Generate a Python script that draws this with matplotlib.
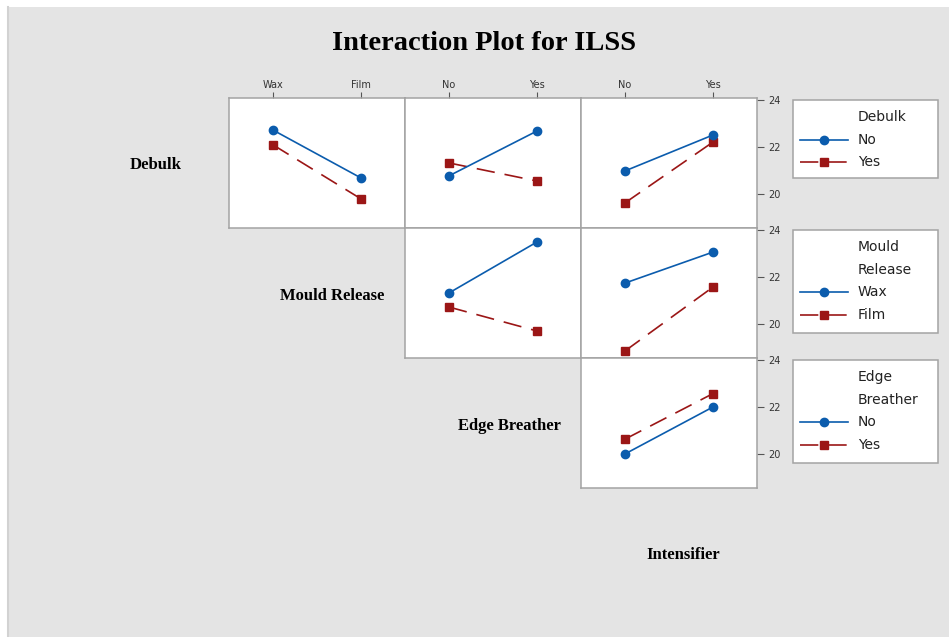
import matplotlib.pyplot as plt
from matplotlib.lines import Line2D
from matplotlib.patches import Rectangle

W, H = 949, 637

factors = ['Debulk', 'Mould Release', 'Edge Breather', 'Intensifier']
levels = [['No', 'Yes'], ['Wax', 'Film'], ['No', 'Yes'], ['No', 'Yes']]
legend_titles = [['Debulk'], ['Mould', 'Release'], ['Edge', 'Breather']]

# mean ILSS, one list per level of the trace factor (row), x = column factor
debulk_x_mould = [[22.72, 20.68], [22.09, 19.79]]
debulk_x_edge = [[20.77, 22.68], [21.32, 20.55]]
debulk_x_intens = [[20.98, 22.51], [19.62, 22.21]]
mould_x_edge = [[21.32, 23.49], [20.72, 19.70]]
mould_x_intens = [[21.74, 23.06], [18.85, 21.57]]
edge_x_intens = [[20.00, 22.00], [20.63, 22.57]]

panels = {
    (0, 1): debulk_x_mould,
    (0, 2): debulk_x_edge,
    (0, 3): debulk_x_intens,
    (1, 2): mould_x_edge,
    (1, 3): mould_x_intens,
    (2, 3): edge_x_intens,
}

yticks = [20, 22, 24]

blue = '#0b5cad'
red = '#9b1616'
frame = '#a3a3a3'
bg = '#e4e4e4'
dash = (0, (11, 6))


def fx(x):
    return x / W


def fy(y):
    return 1 - y / H


fig = plt.figure(figsize=(W / 100, H / 100), dpi=100, facecolor='white')
fig.add_artist(Rectangle((fx(8), 0), 1 - fx(8), fy(7), transform=fig.transFigure,
                         facecolor=bg, edgecolor='none', zorder=0))
fig.add_artist(Line2D([fx(8), fx(8)], [0, fy(7)], transform=fig.transFigure,
                      color='#d2d2d2', lw=1.5, zorder=0))

fig.text(fx(484), fy(43), 'Interaction Plot for ILSS', ha='center', va='center',
         family='Liberation Serif', weight='bold', fontsize=20.5)

col_left = [229, 405, 581]
row_top = [98, 228, 358]
pw, ph = 176, 130

for (r, c), vals in panels.items():
    ci = c - 1
    ax = fig.add_axes([fx(col_left[ci]), fy(row_top[r] + ph), pw / W, ph / H])
    ax.set_facecolor('white')
    ax.plot([1, 2], vals[0], color=blue, lw=1.2, marker='o', ms=6,
            zorder=3)
    ax.plot([1, 2], vals[1], color=red, lw=1.2, ls=dash, marker='s', ms=5.5,
            zorder=2)
    ax.set_xlim(0.5, 2.5)
    ax.set_ylim(18.55, 24.085)
    for s in ax.spines.values():
        s.set_color(frame)
        s.set_linewidth(1.1)
    ax.tick_params(which='both', left=False, bottom=False, labelleft=False,
                   labelbottom=False, colors='#555555', labelcolor='#333333',
                   labelsize=7, length=4, width=0.8)
    if r == 0:
        ax.set_xticks([1, 2], levels[c])
        ax.tick_params(top=True, labeltop=True, pad=1.5)
    else:
        ax.set_xticks([])
    if ci == 2:
        ax.set_yticks(yticks)
        ax.yaxis.tick_right()
        ax.tick_params(axis='y', right=True, labelright=True, length=5, pad=3)
    else:
        ax.set_yticks([])

# factor names along the diagonal
label_pos = [(156, 165), (332, 296), (509, 426), (683, 555)]
for name, (x, y) in zip(factors, label_pos):
    fig.text(fx(x), fy(y), name, ha='center', va='center',
             family='Liberation Serif', weight='bold', fontsize=12)

# legends, one per trace factor
box_top = [100, 230, 360]
box_h = [78, 103, 103]
step = 22.7
for r in range(3):
    fig.add_artist(Rectangle((fx(793), fy(box_top[r] + box_h[r])), 145 / W,
                             box_h[r] / H, transform=fig.transFigure,
                             facecolor='white', edgecolor=frame, lw=1.1))
    y = box_top[r] + 17
    for t in legend_titles[r]:
        fig.text(fx(858), fy(y), t, ha='left', va='center', fontsize=10,
                 family='DejaVu Sans', color='#222222')
        y += step
    for lvl, color, ls, mk, ms in zip(levels[r], [blue, red], ['-', dash],
                                      ['o', 's'], [6, 5.5]):
        fig.add_artist(Line2D([fx(800), fx(848)], [fy(y), fy(y)],
                              transform=fig.transFigure, color=color, lw=1.2,
                              ls=ls))
        fig.add_artist(Line2D([fx(824)], [fy(y)], transform=fig.transFigure,
                              color=color, marker=mk, ms=ms, ls='none'))
        fig.text(fx(858), fy(y), lvl, ha='left', va='center', fontsize=10,
                 family='DejaVu Sans', color='#222222')
        y += step

fig.savefig('out.png', dpi=100, facecolor=fig.get_facecolor())
